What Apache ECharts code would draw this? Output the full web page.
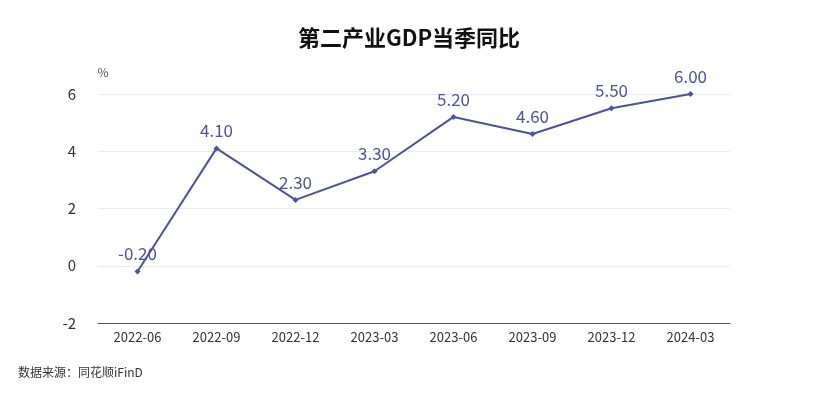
<!DOCTYPE html>
<html><head><meta charset="utf-8">
<script src="https://cdn.jsdelivr.net/npm/echarts@6/dist/echarts.min.js"></script>
<style>html,body{margin:0;padding:0;background:#fff}#c{width:818px;height:400px}</style>
</head><body><div id="c"></div>
<script>
const categories = ["2022-06","2022-09","2022-12","2023-03","2023-06","2023-09","2023-12","2024-03"];
const values = [-0.2, 4.1, 2.3, 3.3, 5.2, 4.6, 5.5, 6.0];
const lineColor = "#4b5399";

const chart = echarts.init(document.getElementById("c"));
chart.setOption({
  animation: false,
  textStyle: { fontFamily: "Noto Sans CJK SC" },
  title: {
    text: "第二产业GDP当季同比", left: "center", top: 22,
    textStyle: { fontSize: 22, fontWeight: "bold", color: "#111", fontFamily: "Noto Sans CJK SC" }
  },
  graphic: [{
    type: "text", left: 18, top: 366,
    style: { text: "数据来源：同花顺iFinD", fontSize: 12, fill: "#333", fontFamily: "Noto Sans CJK SC" }
  }],
  grid: { left: 98, right: 88, top: 94, bottom: 77 },
  xAxis: {
    type: "category", data: categories, boundaryGap: true,
    axisLine: { onZero: false, lineStyle: { color: "#555" } },
    axisTick: { show: false },
    axisLabel: { color: "#333", fontSize: 13, margin: 8 }
  },
  yAxis: {
    type: "value", min: -2, max: 6, interval: 2,
    name: "%", nameGap: 16, nameTextStyle: { color: "#555", fontSize: 12, padding: [0, 0, 0, 10] },
    axisLine: { show: false }, axisTick: { show: false },
    axisLabel: { color: "#333", fontSize: 15, margin: 22 },
    splitLine: { lineStyle: { color: "#e8eaf4" } }
  },
  series: [{
    type: "line", data: values,
    symbol: "diamond", symbolSize: 6,
    itemStyle: { color: lineColor },
    lineStyle: { color: lineColor, width: 2 },
    label: {
      show: true, position: "top", distance: 6, fontSize: 17, color: lineColor,
      formatter: p => p.value.toFixed(2)
    }
  }]
});
</script></body></html>
